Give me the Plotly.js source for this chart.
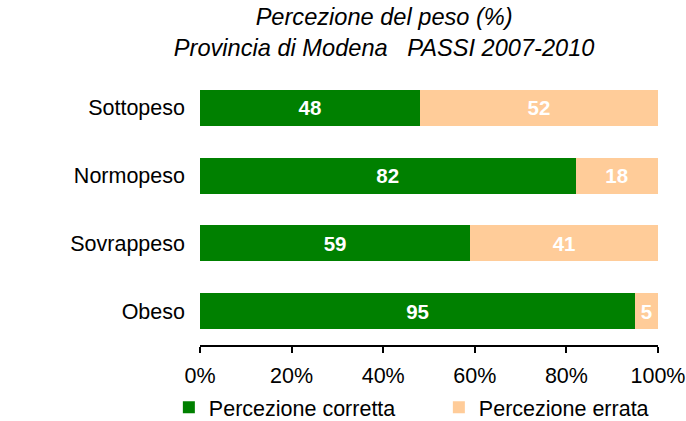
<!DOCTYPE html>
<html><head><meta charset="utf-8">
<script src="https://cdn.plot.ly/plotly-3.0.1.min.js"></script>
<style>html,body{margin:0;padding:0;background:#fff;}#chart{width:686px;height:421px;}</style>
</head><body><div id="chart"></div>
<script>
const categories = ["Sottopeso", "Normopeso", "Sovrappeso", "Obeso"];
const corretta = [48, 82, 59, 95];
const errata = [52, 18, 41, 5];
const seriesNames = ["Percezione corretta", "Percezione errata"];
const tickVals = [0, 20, 40, 60, 80, 100];
const tickText = ["0%", "20%", "40%", "60%", "80%", "100%"];

const FONT = "Liberation Sans, Arial, Helvetica, sans-serif";
const common = {
  type: "bar", orientation: "h", y: categories,
  textposition: "inside", insidetextanchor: "middle",
  textfont: {family: FONT, size: 20.5, color: "#ffffff", weight: "bold"},
  hoverinfo: "none", constraintext: "none"
};
const data = [
  Object.assign({}, common, {x: corretta, text: corretta.map(String), name: seriesNames[0], marker: {color: "#008000"}}),
  Object.assign({}, common, {x: errata, text: errata.map(String), name: seriesNames[1], marker: {color: "#FFCC99"}})
];
const layout = {
  width: 686, height: 421,
  margin: {l: 200, r: 28, t: 74, b: 76, autoexpand: false},
  paper_bgcolor: "#ffffff", plot_bgcolor: "#ffffff",
  barmode: "stack", bargap: 0.47,
  font: {family: FONT, size: 21.5, color: "#000000"},
  title: {
    text: "Percezione del peso (%)<br>Provincia di Modena   PASSI 2007-2010",
    font: {family: FONT, size: 23.6, style: "italic", color: "#000000"},
    xref: "container", x: 0.56, xanchor: "center",
    yref: "container", y: 0.94, yanchor: "top"
  },
  xaxis: {
    range: [0, 100], tickvals: tickVals, ticktext: tickText,
    showgrid: false, zeroline: false, showline: true, linecolor: "#000000", linewidth: 2,
    ticks: "outside", ticklen: 6, tickwidth: 2, tickcolor: "#000000", ticklabelstandoff: 4,
    tickfont: {family: FONT, size: 21.5, color: "#000000"}, fixedrange: true
  },
  yaxis: {
    autorange: "reversed", showgrid: false, zeroline: false, showline: false,
    ticks: "", ticklabelstandoff: 14,
    tickfont: {family: FONT, size: 21.5, color: "#000000"}, fixedrange: true
  },
  showlegend: true,
  legend: {
    orientation: "h", x: -0.068, xanchor: "left", y: -0.23, yanchor: "middle",
    font: {family: FONT, size: 21.5, color: "#000000"},
    entrywidth: 225, entrywidthmode: "pixels", traceorder: "normal",
    itemwidth: 30, bgcolor: "rgba(0,0,0,0)"
  }
};
Plotly.newPlot("chart", data, layout, {displayModeBar: false, staticPlot: true});
</script></body></html>
